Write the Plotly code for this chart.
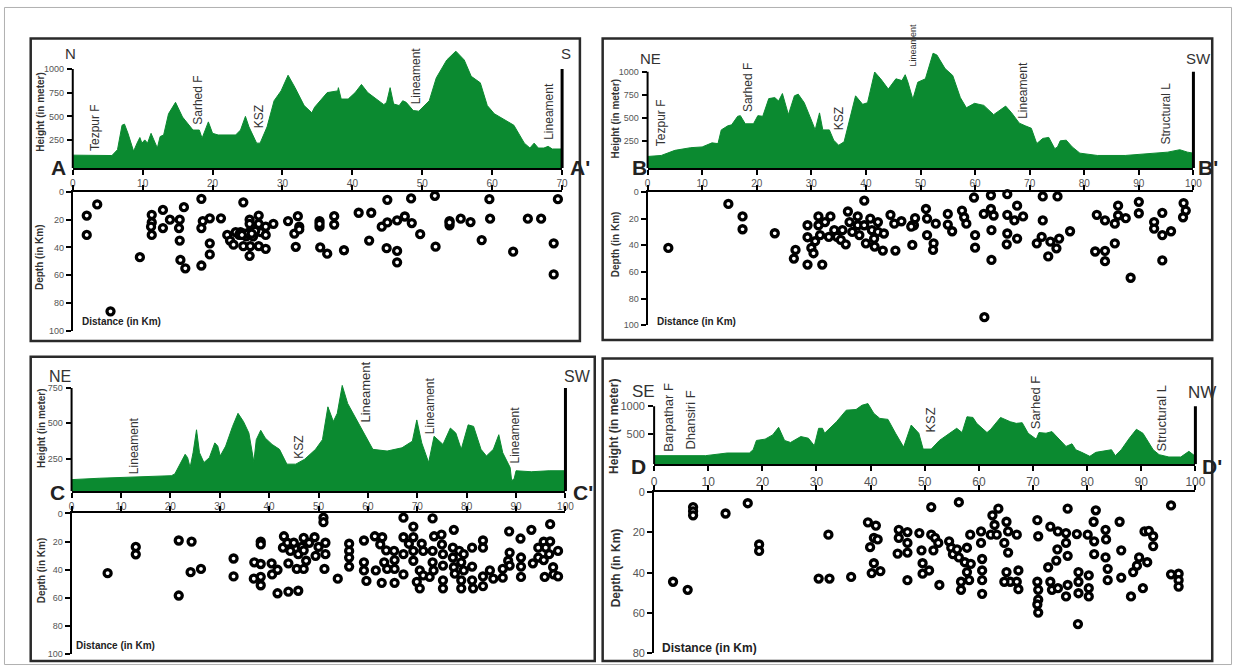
import plotly.graph_objects as go

W, H = 1243, 672
GREEN = '#0b8a30'

# ------------------------------------------------------------------ data
# Topographic profiles (distance km, height m)
A_prof_km = [0, 5.6, 6.4, 7.05, 7.4, 7.9, 8.7, 9.2, 9.6, 9.9, 10.3, 10.7, 11.2, 11.6, 12.1, 12.5, 13.0, 13.7, 14.7, 15.7,
             17.2, 18.1, 18.5, 19.4, 20.0, 20.8, 23.3, 24.0, 24.7, 25.2, 26.3, 26.8, 27.8, 28.8, 29.8, 30.8, 31.8, 33.1, 34.2, 34.6,
             36.4, 37.9, 38.0, 38.4, 39.4, 40.4, 41.3, 42.2, 43.4, 44.5, 44.9, 45.4, 45.9, 46.7, 47.2, 47.7, 48.7, 49.5, 51.0, 52.0,
             53.5, 54.8, 56.0, 57.0, 58.3, 59.3, 60.3, 61.8, 63.1, 64.6, 65.4, 66.0, 66.6, 67.4, 68.0, 68.6, 70]
A_prof_m = [92, 88, 150, 408, 419, 322, 133, 219, 278, 219, 253, 219, 322, 253, 167, 288, 305, 529, 649, 494,
            357, 357, 271, 443, 322, 305, 305, 357, 501, 391, 219, 219, 391, 666, 770, 935, 804, 615, 539, 598,
            752, 770, 804, 684, 684, 752, 838, 752, 684, 625, 649, 804, 632, 615, 666, 649, 563, 556, 666, 907,
            1096, 1189, 1096, 924, 855, 615, 529, 460, 408, 219, 167, 219, 167, 167, 185, 157, 157]

B_prof_km = [0, 2.5, 5.0, 7.9, 10.0, 11.8, 12.9, 13.5, 14.7, 15.4, 16.5, 17.0, 17.9, 19.4, 20.2, 21.1, 22.2, 23.3, 24.0, 24.7,
             25.8, 26.9, 27.6, 28.7, 29.8, 30.1, 30.7, 31.5, 32.1, 33.3, 34.1, 35.0, 36.0, 37.3, 38.1, 39.4, 40.3, 41.6, 42.7, 44.1,
             45.5, 46.6, 47.2, 47.7, 48.6, 49.5, 50.9, 52.3, 53.0, 54.5, 55.9, 57.3, 58.4, 59.9, 61.6, 63.4, 64.5, 65.6, 66.7, 68.1,
             69.2, 70.3, 71.3, 72.4, 73.5, 74.6, 75.1, 75.6, 76.7, 77.8, 79.2, 82.4, 87.5, 92.5, 95.3, 97.5, 98.9, 100]
B_prof_m = [85, 96, 151, 180, 188, 232, 224, 372, 416, 427, 519, 526, 438, 438, 526, 519, 710, 721, 684, 765,
            537, 740, 758, 666, 489, 464, 372, 556, 372, 372, 261, 206, 243, 556, 740, 648, 666, 997, 924, 813,
            924, 905, 968, 887, 703, 887, 924, 1200, 1181, 1034, 960, 721, 611, 659, 637, 537, 585, 629, 556, 445,
            416, 390, 224, 280, 291, 169, 188, 254, 261, 188, 121, 96, 96, 121, 132, 158, 132, 121]

C_prof_km = [0, 5.7, 13.0, 20.2, 20.9, 22.1, 23.0, 23.5, 24.0, 24.6, 25.3, 25.9, 26.8, 27.9, 29.0, 29.6, 30.1, 31.2, 32.6, 33.7,
             34.8, 35.9, 36.9, 37.4, 38.3, 39.2, 40.6, 42.1, 43.6, 45.4, 47.2, 49.4, 50.8, 51.9, 53.0, 53.8, 54.8, 55.9, 58.1, 59.6,
             61.0, 63.9, 66.9, 69.0, 69.9, 70.9, 72.3, 73.4, 74.5, 75.2, 76.7, 77.8, 78.9, 80.3, 81.4, 82.9, 84.0, 85.4, 86.5, 87.3,
             88.8, 89.1, 89.6, 90.0, 93.1, 96.7, 100]
C_prof_m = [100, 110, 117, 128, 140, 221, 280, 256, 186, 291, 454, 291, 221, 256, 361, 338, 268, 338, 478, 571,
            513, 431, 226, 384, 450, 396, 350, 315, 210, 210, 245, 315, 384, 617, 513, 571, 769, 641, 501, 408,
            315, 303, 326, 373, 524, 361, 221, 408, 373, 350, 466, 431, 315, 489, 478, 315, 268, 315, 419, 291,
            186, 93, 105, 163, 156, 163, 163]

D_prof_km = [0, 9.5, 13.5, 17.6, 18.3, 18.9, 20.5, 21.9, 23.0, 24.1, 25.2, 27.1, 28.5, 29.6, 30.4, 31.1, 31.5, 33.7, 35.5, 37.3,
             38.4, 39.5, 40.6, 41.7, 43.2, 44.6, 46.1, 47.5, 48.9, 49.7, 51.2, 52.7, 54.1, 55.9, 56.9, 57.8, 58.9, 59.6, 61.5, 62.2,
             64.0, 65.8, 66.9, 68.0, 69.1, 70.6, 71.1, 72.4, 73.5, 74.6, 76.1, 77.2, 77.9, 79.0, 80.5, 81.6, 83.4, 84.5, 85.2, 86.3,
             87.8, 89.1, 90.3, 92.2, 93.3, 95.1, 97.3, 98.8, 100]
D_prof_m = [107, 107, 155, 155, 214, 381, 405, 482, 619, 381, 345, 452, 422, 286, 601, 601, 512, 720, 928, 940,
            1017, 1047, 869, 780, 762, 512, 262, 660, 512, 226, 226, 381, 482, 601, 524, 809, 797, 690, 524, 583,
            797, 720, 690, 702, 512, 405, 524, 512, 541, 422, 274, 321, 214, 167, 95, 167, 202, 214, 107, 214,
            422, 583, 512, 214, 125, 83, 83, 185, 95]

# Hypocentres (distance km, depth km)
A_eq_km = [2.0, 2.0, 3.5, 9.6, 5.4, 11.3, 11.3, 11.2, 11.3, 12.9, 12.9, 13.9, 15.3, 15.2, 15.3, 15.9, 15.4, 16.1, 18.4, 18.6,
           18.4, 18.4, 19.6, 19.6, 19.6, 21.2, 24.4, 22.1, 22.5, 23.0, 23.3, 24.0, 24.4, 24.8, 25.3, 25.3, 25.3, 25.4, 25.3, 25.8,
           26.6, 26.6, 26.6, 26.9, 27.6, 27.6, 27.6, 28.7, 26.1, 23.8, 30.8, 32.2, 32.4, 31.7, 31.9, 35.3, 35.3, 35.4, 36.4, 37.4,
           37.4, 38.8, 40.9, 42.7, 42.4, 45.0, 44.2, 45.0, 44.9, 46.4, 46.4, 46.4, 47.5, 48.4, 48.5, 49.7, 51.8, 51.9, 53.9, 53.9,
           55.5, 56.9, 58.5, 59.6, 59.7, 63.0, 65.1, 67.0, 68.8, 68.8, 69.4, 32.4, 35.3, 53.9, 24.6, 25.0, 25.6, 24.2]
A_eq_dep = [17, 31, 9, 47, 86, 16.5, 22, 25, 31, 13, 26, 20, 20, 26, 35, 11, 49, 55, 5, 21,
            26, 53, 19, 37, 45, 19, 7.5, 31, 35, 38, 29, 29, 39, 32, 20, 23, 29, 39, 46, 32,
            17, 23, 39, 29, 31, 25, 41, 23, 28, 31, 21, 17.5, 25, 30, 39.5, 21, 25, 40, 44.5, 17.5,
            23.5, 42, 15, 15, 35, 5.7, 25, 22, 40.5, 20.5, 42.5, 50.7, 17.7, 4.7, 22.4, 30.4, 2.8, 39.4, 21, 24,
            19.3, 21.7, 34.7, 5.2, 19.3, 43, 19.3, 19.3, 37, 59.4, 5.2, 27, 23, 22, 30, 30, 30, 31]

B_eq_km = [3.8, 14.8, 17.4, 17.4, 23.3, 27.1, 26.8, 29.3, 29.3, 29.3, 30.0, 30.4, 30.7, 31.3, 31.3, 31.6, 32.0, 32.5, 33.5, 33.2,
           34.2, 34.7, 35.4, 35.7, 36.3, 36.7, 37.0, 37.5, 38.5, 38.5, 38.8, 39.7, 39.7, 40.0, 40.8, 41.1, 41.5, 41.6, 42.2, 42.2,
           43.3, 43.1, 44.5, 45.2, 45.4, 46.5, 48.5, 48.5, 49.0, 51.0, 51.2, 51.2, 52.4, 52.3, 52.8, 55.0, 55.0, 55.8, 57.6, 58.0,
           58.4, 59.8, 60.0, 60.0, 61.6, 62.9, 62.9, 63.4, 63.0, 63.0, 61.7, 65.9, 65.9, 65.9, 65.8, 67.2, 67.7, 67.7, 68.8, 71.3,
           72.4, 72.4, 72.2, 73.4, 73.8, 75.1, 74.9, 75.4, 77.4, 82.3, 82.0, 83.8, 83.8, 83.8, 85.6, 85.6, 86.2, 86.2, 87.6, 88.5,
           90.0, 90.0, 92.8, 92.8, 94.3, 94.3, 94.3, 95.9, 98.2, 98.6, 98.1, 48.8, 48.3]
B_eq_dep = [42, 9, 18.4, 28, 31, 43.5, 50, 25, 34, 54.5, 42, 46, 37, 18.4, 25, 32.4, 54.5, 22.6, 18.4, 33.7,
            28.7, 33.7, 36, 28.7, 39.3, 14.7, 22.6, 30, 18.4, 25, 32.4, 6.6, 25, 38.6, 20, 28.7, 35, 41, 22.6, 30,
            31.2, 44, 17.2, 23.8, 44, 22, 39.8, 25, 19.7, 12.8, 20, 32.4, 38.6, 43.5, 23.8, 16.5, 24.5, 29.5, 14, 19,
            23.8, 4.2, 32.4, 41.8, 16.5, 2.5, 12.8, 17.7, 28.7, 51, 94, 1.7, 17.2, 31.2, 39.3, 21.4, 10.3, 35, 18.4, 38.6,
            3.4, 21.4, 33.7, 48.4, 37.3, 3.4, 42.3, 35, 29.5, 17.2, 44.7, 21.4, 52, 44.2, 23.8, 38.6, 10.3, 17.7, 19.7, 64.4,
            7.4, 16, 22.6, 27.5, 15.7, 32.4, 51.4, 29.5, 8.4, 14, 19, 25, 26]

C_eq_km = [7.3, 13.0, 13.0, 21.7, 21.7, 24.3, 24.1, 26.2, 32.8, 32.8, 37.0, 36.9, 38.3, 38.3, 38.3, 38.3, 38.3, 40.5, 40.6, 41.7,
           41.7, 43.0, 42.8, 43.7, 43.9, 44.3, 45.0, 45.6, 45.9, 45.9, 46.6, 47.0, 47.0, 47.0, 47.5, 48.1, 49.2, 49.4, 50.0, 51.0,
           51.0, 51.4, 51.4, 51.2, 53.9, 56.2, 56.2, 56.2, 56.2, 59.2, 59.2, 59.2, 59.7, 61.4, 61.6, 62.5, 62.9, 62.8, 63.3, 63.7,
           63.9, 65.3, 65.4, 65.4, 65.4, 67.2, 67.2, 67.2, 67.2, 68.3, 69.2, 69.2, 69.2, 69.2, 69.9, 70.5, 70.5, 70.9, 71.2, 71.2,
           72.5, 73.1, 73.4, 73.1, 73.1, 73.3, 74.9, 75.0, 75.2, 75.2, 75.2, 75.2, 77.4, 77.2, 77.2, 77.4, 77.6, 78.5, 78.9, 78.9,
           78.9, 79.4, 79.4, 81.1, 81.1, 81.1, 81.3, 83.3, 83.3, 83.3, 83.3, 84.7, 85.4, 87.3, 87.3, 88.4, 88.6, 88.7, 88.7, 90.9,
           91.0, 91.0, 91.0, 93.1, 93.4, 94.5, 94.5, 95.6, 95.6, 95.8, 96.0, 96.9, 96.9, 97.5, 97.6, 98.5, 98.5, 96.7, 43.9]
C_eq_dep = [42.4, 23.8, 29, 19.2, 58.3, 20, 41.7, 39.4, 32, 44.7, 34.7, 46.3, 20, 22, 35.9, 45, 51, 35.4, 43.3, 40,
            56.7, 16.2, 24.3, 20.8, 35.4, 26.6, 20.8, 39.4, 54.9, 28.9, 23.8, 17.4, 39.4, 26.2, 33.6, 20.8, 16.9, 30.1, 23.8, 3,
            6.2, 20.8, 28.9, 39.4, 46.3, 21.5, 26.6, 31.3, 37.7, 19.2, 34.7, 40.5, 47.9, 16.2, 40.5, 22, 16.9, 49.3, 34.7, 26.2,
            39.4, 26.6, 33.1, 39.4, 49.3, 3, 16.9, 28.9, 43.3, 21.5, 9.3, 16.9, 26.6, 33.6, 48.6, 40.5, 53.2, 21.5, 26.6, 44,
            45.1, 3.5, 16.2, 26.6, 34.7, 40.5, 15, 22, 28.9, 37, 47.5, 53.2, 11.6, 24.3, 31.3, 38.2, 42.8, 26.6, 34.7, 47.5,
            53.2, 28.9, 40.5, 24.3, 37.7, 47.5, 53.2, 19.2, 24.3, 44.7, 51.6, 40.5, 46.3, 39.4, 45.6, 33.6, 12.7, 27.8, 37, 17.8,
            31.3, 37.7, 45.1, 11.6, 35.4, 24.3, 31.3, 20.1, 33.1, 45.1, 24.3, 19.9, 7.6, 38.2, 43.3, 44.7, 26.6, 28.9, 55.5]

D_eq_km = [7.2, 7.2, 7.2, 13.2, 17.3, 3.5, 6.2, 19.4, 19.4, 30.4, 32.4, 32.2, 36.4, 39.5, 40.97, 39.9, 40.6, 41.3, 40.6, 40.2,
           41.8, 45.2, 45.2, 44.99, 46.8, 46.8, 46.8, 46.8, 49.0, 49.4, 49.6, 49.6, 50.8, 51.2, 51.6, 51.9, 52.5, 52.7, 54.5, 54.9,
           55.2, 55.96, 56.3, 56.7, 56.7, 57.4, 57.8, 57.8, 58.2, 58.4, 58.5, 60.4, 60.4, 60.6, 60.6, 60.6, 60.6, 62.2, 62.5, 62.9,
           63.3, 63.6, 64.7, 65.1, 65.4, 65.4, 65.8, 65.1, 67.0, 67.0, 67.3, 67.3, 64.7, 70.8, 70.96, 70.8, 70.96, 70.96, 70.96, 70.8,
           72.8, 73.2, 73.2, 73.5, 74.6, 74.5, 74.3, 74.6, 76.1, 76.1, 76.4, 76.4, 76.4, 76.1, 78.1, 78.4, 78.3, 78.4, 78.4, 80.1,
           80.3, 80.3, 80.3, 81.2, 81.6, 81.3, 81.3, 83.4, 83.5, 83.4, 83.8, 83.8, 86.0, 86.3, 86.3, 88.1, 88.5, 89.2, 89.6, 90.3,
           91.1, 90.6, 91.4, 92.2, 92.2, 95.5, 95.5, 96.9, 96.9, 96.9, 51.2, 56.3]
D_eq_dep = [7.4, 9.5, 11.5, 10.6, 5.5, 44.5, 48.5, 26, 29.2, 42.9, 42.9, 21.1, 42.1, 15, 16.6, 27.3, 22.7, 23.5, 35.3, 40.2,
            39.2, 18.7, 22.7, 30.5, 19.8, 25.2, 30, 43.7, 20.3, 28.9, 35.3, 40.5, 38.9, 21.1, 28.9, 22.7, 25.2, 46.1, 24.4, 27.6,
            30.8, 28.4, 32.4, 44.5, 48.5, 34.8, 27.6, 39.7, 43.7, 21.1, 35.6, 19.5, 25.2, 33.2, 38.9, 43.7, 50.5, 21.1, 11.5, 16.3,
            21.1, 8.2, 25.2, 14.7, 19.5, 30, 44.5, 39.7, 21.1, 44.5, 38.9, 48.2, 44.5, 13.9, 21.9, 44.5, 48.5, 53.4, 59.8, 55.8,
            37.3, 17.1, 44.5, 48.5, 19.5, 28.4, 34, 47.7, 20.3, 25.2, 8.2, 31.6, 46.1, 51.8, 20.8, 39.7, 65.5, 44.5, 50.2, 21.1,
            41.3, 47.7, 51.8, 14.7, 9, 24.4, 30.8, 18.7, 23.5, 32.4, 38.1, 43.7, 14.7, 28.9, 42.4, 51.8, 39.7, 36.5, 32.4, 47.7,
            34.8, 19.5, 19.2, 21.9, 26.8, 6.6, 40.8, 40.5, 43.7, 46.9, 7.4, 5]

# Structural features named along each profile (distance km)
A_faults = ["Tezpur F", "Sarhed F", "KSZ", "Lineament", "Lineament"]
A_fault_km = [3.2, 17.8, 26.7, 49.1, 68.2]
B_faults = ["Tezpur F", "Sarhed F", "KSZ", "Lineament", "Lineament", "Structural L"]
B_fault_km = [2.5, 18.3, 35.0, 48.6, 68.8, 95.0]
C_faults = ["Lineament", "KSZ", "Lineament", "Lineament", "Lineament"]
C_fault_km = [12.8, 45.9, 59.6, 72.6, 89.8]
D_faults = ["Barpathar F", "Dhansiri F", "KSZ", "Sarhed F", "Structural L"]
D_fault_km = [2.5, 6.8, 51.0, 70.5, 93.8]

# Tick labels
X_TICKS_70 = [0, 10, 20, 30, 40, 50, 60, 70]
X_TICKS_100 = [0, 10, 20, 30, 40, 50, 60, 70, 80, 90, 100]
H_TICKS_1000 = [250, 500, 750, 1000]
H_TICKS_750 = [250, 500, 750]
H_TICKS_D = [500, 1000]
DEP_TICKS_100 = [0, 20, 40, 60, 80, 100]
DEP_TICKS_80 = [0, 20, 40, 60, 80]

# ------------------------------------------------------------------ layout config (pixels)
panels = [
    dict(km=A_prof_km, m=A_prof_m, ek=A_eq_km, ed=A_eq_dep, xmax=70, xt=X_TICKS_70,
         xpx=(70.5, 565), hpx=(40, 165), hr=(-44, 1251), ht=H_TICKS_1000, htop=1000,
         dpx=(189.3, 330.7), dmax=100, dt=DEP_TICKS_100,
         faults=A_faults, fkm=A_fault_km, fy=[111, 388, 353, 612, 233], fs=[12, 12, 12, 12, 12],
         box=(28, 33, 583, 341), htitle=(37, 108), dtitle=(37, 256), dist=(78, 321), tsz=10,
         dirs=[("N", 68, 48), ("S", 569, 48)], dsz=15, tkx=10, tkh=9,
         letters=[("A", 56, 164), ("A'", 583, 164)]),
    dict(km=B_prof_km, m=B_prof_m, ek=B_eq_km, ed=B_eq_dep, xmax=100, xt=X_TICKS_100,
         xpx=(651.4, 1203), hpx=(40, 165), hr=(-40, 1286), ht=H_TICKS_1000, htop=1000,
         dpx=(189.3, 325), dmax=100, dt=DEP_TICKS_100,
         faults=B_faults, fkm=B_fault_km, fy=[172, 543, 349, 1040, 466, 194], fs=[12, 12, 12, 9, 12, 12],
         box=(606, 33, 1222, 340), htitle=(619, 115), dtitle=(619, 243), dist=(659, 321), tsz=10,
         dirs=[("NE", 654, 53), ("SW", 1208, 53)], dsz=15, tkx=10, tkh=9,
         letters=[("B", 643, 164), ("B'", 1218, 164)]),
    dict(km=C_prof_km, m=C_prof_m, ek=C_eq_km, ed=C_eq_dep, xmax=100, xt=X_TICKS_100,
         xpx=(69.3, 568.4), hpx=(375, 494), hr=(18, 848), ht=H_TICKS_750, htop=750,
         dpx=(516.7, 660), dmax=100, dt=DEP_TICKS_100,
         faults=C_faults, fkm=C_fault_km, fy=[127, 232, 494, 406, 197], fs=[12, 12, 13, 12, 12],
         box=(28, 357, 598, 667), htitle=(39, 430), dtitle=(39, 575), dist=(72, 651), tsz=10,
         dirs=[("NE", 58, 377), ("SW", 581, 377)], dsz=16, tkx=10, tkh=9,
         letters=[("C", 55, 495), ("C'", 586, 495)]),
    dict(km=D_prof_km, m=D_prof_m, ek=D_eq_km, ed=D_eq_dep, xmax=100, xt=X_TICKS_100,
         xpx=(658, 1205), hpx=(380, 466.7), hr=(-50, 1487), ht=H_TICKS_D, htop=1000,
         dpx=(495, 659), dmax=80, dt=DEP_TICKS_80,
         faults=D_faults, fkm=D_fault_km, fy=[145, 188, 482, 542, 145], fs=[13, 13, 13, 13, 13],
         box=(606, 359, 1222, 667), htitle=(618, 428), dtitle=(619, 572), dist=(664, 654), tsz=12,
         dirs=[("SE", 647, 392), ("NW", 1212, 394)], dsz=17, tkx=12, tkh=11,
         letters=[("D", 642, 469), ("D'", 1222, 469)]),
]

FONT = "Liberation Sans, Arial, sans-serif"


def fx(p):
    return p / W


def fy(p):
    return 1 - p / H


fig = go.Figure()
axes = {}
shapes = []
annots = []

for i, P in enumerate(panels):
    hi, di = 2 * i + 1, 2 * i + 2
    hx = 'x' if hi == 1 else f'x{hi}'
    hy = 'y' if hi == 1 else f'y{hi}'
    dx, dy = f'x{di}', f'y{di}'
    base = P['hr'][0]
    xs = [0] + list(P['km']) + [P['xmax']]
    ys = [base] + list(P['m']) + [base]
    fig.add_trace(go.Scatter(x=xs, y=ys, mode='lines', fill='toself', fillcolor=GREEN,
                             line=dict(color=GREEN, width=1), xaxis=hx, yaxis=hy, hoverinfo='skip'))
    fig.add_trace(go.Scatter(x=P['ek'], y=P['ed'], mode='markers', cliponaxis=False,
                             marker=dict(symbol='circle', size=7, color='white',
                                         line=dict(color='black', width=3.3)),
                             xaxis=dx, yaxis=dy, hoverinfo='skip'))
    xd = [fx(P['xpx'][0]), fx(P['xpx'][1])]
    tfx = dict(family=FONT, size=P['tkx'], color='#555')
    tfh = dict(family=FONT, size=P['tkh'], color='#555')
    common = dict(showgrid=False, zeroline=False, fixedrange=True,
                  ticks='outside', ticklen=5, tickwidth=1.5, tickcolor='black')
    axes['xaxis' if hi == 1 else f'xaxis{hi}'] = dict(
        domain=xd, range=[0, P['xmax']], anchor=hy, showline=True, linewidth=2, linecolor='black',
        tickvals=P['xt'], tickfont=tfx, **common)
    axes['yaxis' if hi == 1 else f'yaxis{hi}'] = dict(
        domain=[fy(P['hpx'][1]), fy(P['hpx'][0])], range=list(P['hr']), anchor=hx, showline=False,
        tickvals=P['ht'], ticklabelstandoff=1, tickfont=tfh, **common)
    axes[f'xaxis{di}'] = dict(
        domain=xd, range=[0, P['xmax']], anchor=dy, side='top', showline=True, linewidth=2,
        linecolor='black', tickvals=P['xt'], showticklabels=False, **common)
    axes[f'yaxis{di}'] = dict(
        domain=[fy(P['dpx'][1]), fy(P['dpx'][0])], range=[P['dmax'], 0], anchor=dx, showline=True,
        linewidth=2, linecolor='black', tickvals=P['dt'], tickfont=tfh, **common)

    # vertical height-axis lines (left axis and right end line)
    shapes.append(dict(type='line', xref='paper', yref=hy, x0=xd[0], x1=xd[0], y0=base, y1=P['htop'],
                       line=dict(color='black', width=2)))
    shapes.append(dict(type='line', xref='paper', yref=hy, x0=xd[1], x1=xd[1], y0=base, y1=P['htop'],
                       line=dict(color='black', width=3)))
    # panel frame
    b = P['box']
    shapes.append(dict(type='rect', xref='paper', yref='paper', x0=fx(b[0]), x1=fx(b[2]),
                       y0=fy(b[3]), y1=fy(b[1]), line=dict(color='#2a2a2a', width=2.5)))

    # fault labels
    for name, km, yb, fs_ in zip(P['faults'], P['fkm'], P['fy'], P['fs']):
        annots.append(dict(text=name, x=km, y=yb, xref=hx, yref=hy, showarrow=False, textangle=-90,
                           xanchor='center', yanchor='bottom',
                           font=dict(family=FONT, size=fs_, color='#333')))
    # axis titles
    tsz = P['tsz']
    annots.append(dict(text='<b>Height (in meter)</b>', x=fx(P['htitle'][0]), y=fy(P['htitle'][1]),
                       xref='paper', yref='paper', showarrow=False, textangle=-90,
                       xanchor='center', yanchor='middle',
                       font=dict(family=FONT, size=tsz, color='#333')))
    annots.append(dict(text='<b>Depth (in Km)</b>', x=fx(P['dtitle'][0]), y=fy(P['dtitle'][1]),
                       xref='paper', yref='paper', showarrow=False, textangle=-90,
                       xanchor='center', yanchor='middle',
                       font=dict(family=FONT, size=tsz, color='#333')))
    annots.append(dict(text='<b>Distance (in Km)</b>', x=fx(P['dist'][0]), y=fy(P['dist'][1]),
                       xref='paper', yref='paper', showarrow=False, xanchor='left', yanchor='middle',
                       font=dict(family=FONT, size=tsz, color='#222')))
    for t, px_, py_ in P['dirs']:
        annots.append(dict(text=t, x=fx(px_), y=fy(py_), xref='paper', yref='paper', showarrow=False,
                           xanchor='center', yanchor='middle',
                           font=dict(family=FONT, size=P['dsz'], color='#333')))
    for t, px_, py_ in P['letters']:
        annots.append(dict(text=f'<b>{t}</b>', x=fx(px_), y=fy(py_), xref='paper', yref='paper',
                           showarrow=False, xanchor='center', yanchor='middle',
                           font=dict(family=FONT, size=21, color='#222')))

# faint outer frame of the figure
shapes.append(dict(type='rect', xref='paper', yref='paper', x0=fx(1.5), x1=fx(1241.5), y0=fy(670.5),
                   y1=fy(1.5), line=dict(color='#b0b0b0', width=1)))

fig.update_layout(width=W, height=H, autosize=False, margin=dict(l=0, r=0, t=0, b=0, pad=0),
                  paper_bgcolor='white', plot_bgcolor='white', showlegend=False, hovermode=False,
                  shapes=shapes, annotations=annots, **axes)

fig.write_html("out.html")
